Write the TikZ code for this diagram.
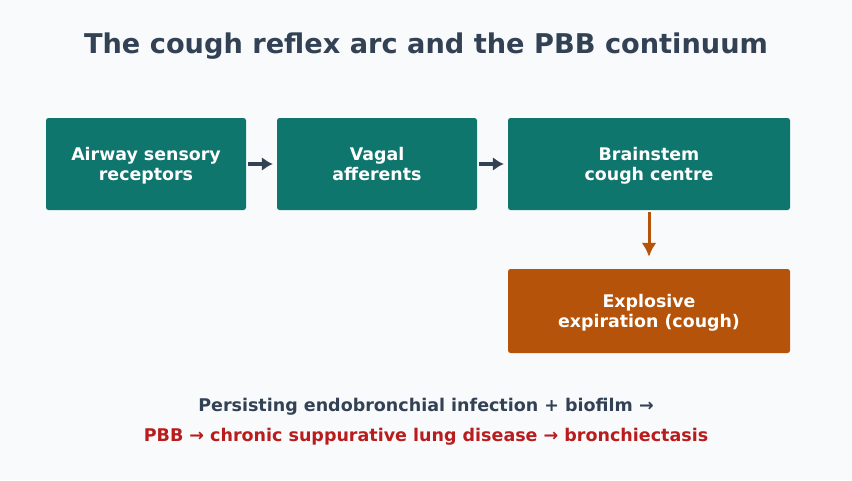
\documentclass[tikz,border=0pt]{standalone}
\usepackage{fontspec}
\setmainfont{DejaVu Sans}
\usepackage{tikz}
\definecolor{bgcol}{HTML}{F8FAFC}
\definecolor{tealbox}{HTML}{0F766E}
\definecolor{orangebox}{HTML}{B45309}
\definecolor{slatecol}{HTML}{334155}
\definecolor{redcol}{HTML}{B91C1C}
\tikzset{
  stagebox/.style={fill=tealbox, rounded corners=2.5pt, text=white, font=\bfseries\fontsize{17.4}{19.5}\selectfont, align=center, inner sep=0pt, text depth=-2pt},
  flowarrow/.style={-{Latex[length=11pt,width=14pt]}, line width=3.6pt, slatecol},
}
\usetikzlibrary{arrows.meta}
\begin{document}
\begin{tikzpicture}[x=1pt, y=-1pt, line join=round]
      \fill[bgcol] (0,0) rectangle (852,480);
      \useasboundingbox (0,0) rectangle (852,480);

      \node[font=\bfseries\fontsize{27.2}{32}\selectfont, text=slatecol] (title) at (426,46) {The cough reflex arc and the PBB continuum};

      \node[stagebox, minimum width=200pt, minimum height=92pt] (airway) at (146,164) {Airway sensory\\receptors};
      \node[stagebox, minimum width=200pt, minimum height=92pt] (vagal) at (377,164) {Vagal\\afferents};
      \node[stagebox, minimum width=282pt, minimum height=92pt] (brainstem) at (649,164) {Brainstem\\cough centre};
      \node[stagebox, fill=orangebox, minimum width=282pt, minimum height=84pt] (cough) at (649,311) {Explosive\\expiration (cough)};

      \draw[flowarrow, shorten <=2pt, shorten >=4pt] (airway) -- (vagal);
      \draw[flowarrow, shorten <=2pt, shorten >=4pt] (vagal) -- (brainstem);
      \draw[flowarrow, orangebox, line width=3pt, -{Latex[length=14pt,width=15pt]}, shorten <=2pt, shorten >=12pt] (brainstem) -- (cough);

      \node[font=\bfseries\fontsize{17.5}{20}\selectfont, text=slatecol] (infection) at (426,407) {Persisting endobronchial infection + biofilm →};
      \node[font=\bfseries\fontsize{17.5}{20}\selectfont, text=redcol] (continuum) at (426,437) {PBB → chronic suppurative lung disease → bronchiectasis};
    \end{tikzpicture}
\end{document}
